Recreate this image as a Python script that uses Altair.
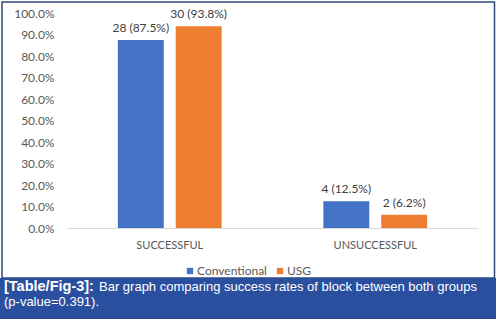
import altair as alt
import pandas as pd

categories = ["SUCCESSFUL", "SUCCESSFUL", "UNSUCCESSFUL", "UNSUCCESSFUL"]
groups = ["Conventional", "USG", "Conventional", "USG"]
values = [0.875, 0.938, 0.125, 0.062]
labels = ["28 (87.5%)", "30 (93.8%)", "4 (12.5%)", "2 (6.2%)"]
y_ticks = [0.0, 0.1, 0.2, 0.3, 0.4, 0.5, 0.6, 0.7, 0.8, 0.9, 1.0]
caption_bold = "[Table/Fig-3]:"
caption_line1 = "Bar graph comparing success rates of block between both groups"
caption_line2 = "(p-value=0.391)."

df = pd.DataFrame({"cat": categories, "grp": groups, "val": values, "lab": labels})

FONT = "Lato"
PL, PT, W, H = 67, 13, 411, 215

x_enc = alt.X("cat:N", title=None, sort=["SUCCESSFUL", "UNSUCCESSFUL"],
              scale=alt.Scale(paddingInner=0.495, paddingOuter=0.2475),
              axis=alt.Axis(labelAngle=0, ticks=False, domainColor="#D9D9D9", domainWidth=1,
                            labelPadding=11, labelFont=FONT, labelFontSize=11,
                            labelColor="#595959"))
xoff = alt.XOffset("grp:N", sort=["Conventional", "USG"],
                   scale=alt.Scale(paddingInner=0.207, paddingOuter=0))
y_enc = alt.Y("val:Q", title=None,
              scale=alt.Scale(domain=[0, 1]),
              axis=alt.Axis(format=".1%", values=y_ticks, grid=False,
                            domain=False, ticks=False, labelPadding=13, labelFont=FONT,
                            labelFontSize=12, labelColor="#595959", labelOverlap=False))

base = alt.Chart(df)

bars = base.mark_bar().encode(
    x=x_enc,
    xOffset=xoff,
    y=y_enc,
    color=alt.Color("grp:N", sort=["Conventional", "USG"],
                    scale=alt.Scale(domain=["Conventional", "USG"], range=["#4472C4", "#ED7D31"]),
                    legend=alt.Legend(title=None, orient="none", direction="horizontal",
                                      legendX=117, legendY=252, symbolType="square",
                                      symbolSize=40, symbolStrokeWidth=0, labelFont=FONT,
                                      labelFontSize=12, labelColor="#595959",
                                      columnPadding=7, labelOffset=1)),
)

text = base.mark_text(dy=-12, font=FONT, fontSize=12, color="#404040").encode(
    x=x_enc,
    xOffset=xoff,
    y=y_enc,
    text="lab:N",
)

one = alt.Data(values=[{"a": 1}])

border = alt.Chart(one).mark_rect(filled=False, stroke="#2F4A78", strokeWidth=1.5).encode(
    x=alt.value(2 - PL), x2=alt.value(494.5 - PL), y=alt.value(2 - PT), y2=alt.value(278 - PT))

capbox = alt.Chart(one).mark_rect(fill="#2B4F9F").encode(
    x=alt.value(0 - PL), x2=alt.value(496 - PL), y=alt.value(278 - PT), y2=alt.value(319 - PT))

cap_b = alt.Chart(alt.Data(values=[{"t": caption_bold}])).mark_text(
    font="Liberation Sans", fontSize=14.5, fontWeight="bold", color="white",
    align="left", baseline="middle").encode(
    x=alt.value(4 - PL), y=alt.value(287 - PT), text="t:N")

cap_1 = alt.Chart(alt.Data(values=[{"t": caption_line1}])).mark_text(
    font="Liberation Sans", fontSize=13, color="white",
    align="left", baseline="middle").encode(
    x=alt.value(99 - PL), y=alt.value(287 - PT), text="t:N")

cap_2 = alt.Chart(alt.Data(values=[{"t": caption_line2}])).mark_text(
    font="Liberation Sans", fontSize=13, color="white",
    align="left", baseline="middle").encode(
    x=alt.value(4 - PL), y=alt.value(302 - PT), text="t:N")

chart = alt.layer(border, capbox, bars, text, cap_b, cap_1, cap_2).properties(
    width=W, height=H,
    padding={"left": PL, "top": PT, "right": 499 - PL - W, "bottom": 321 - PT - H},
    autosize="none",
    background="white",
).configure_view(stroke=None)

chart.save("out.html", embed_options={"renderer": "svg", "actions": False})
